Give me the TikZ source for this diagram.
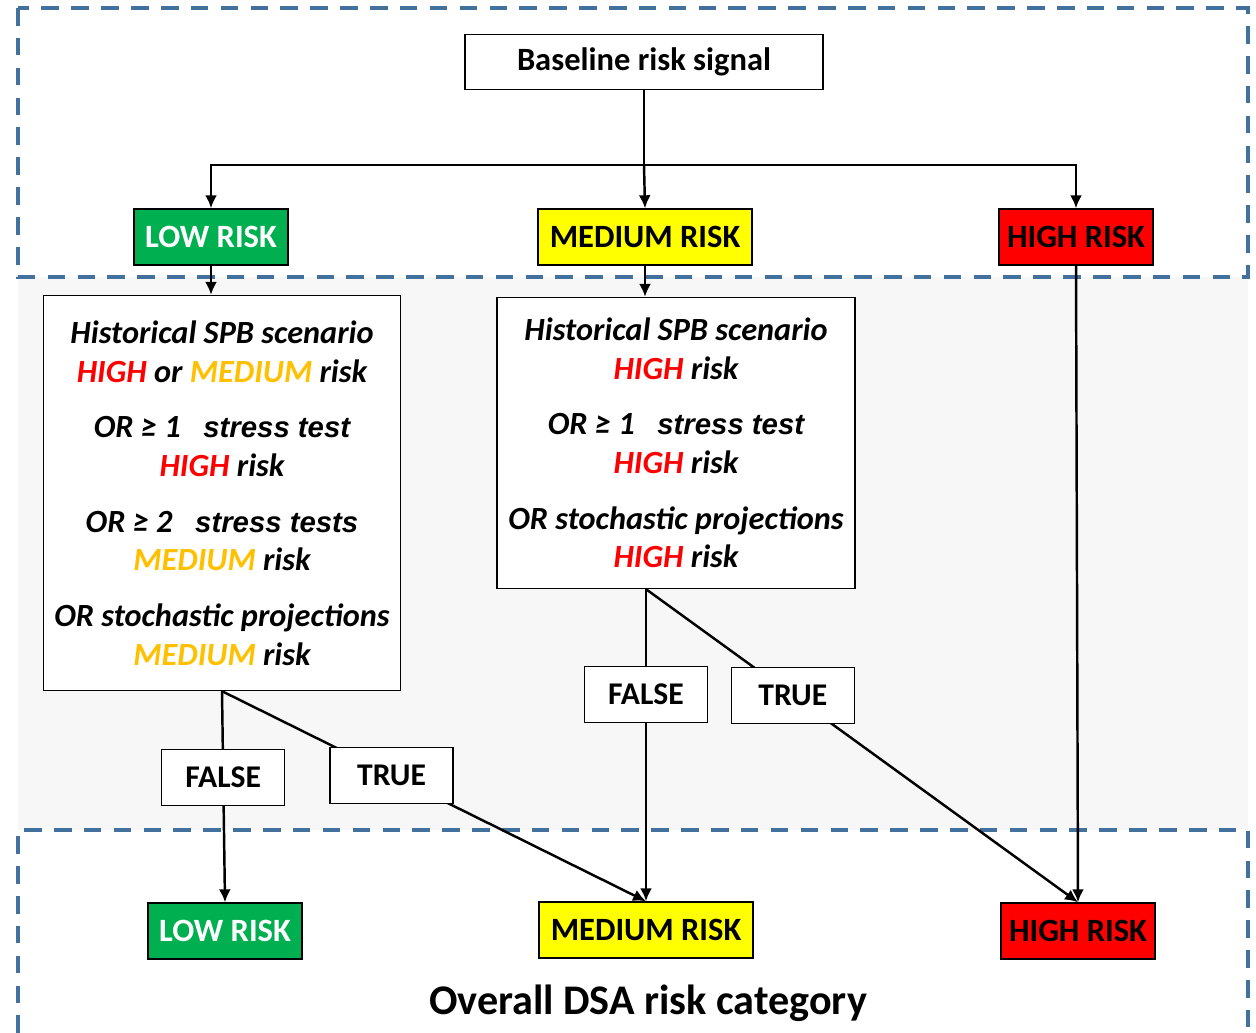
\documentclass[tikz,border=0pt]{standalone}
\usepackage{fontspec}
\setmainfont{Carlito}
\newfontfamily\arialfont{Liberation Sans}
\usepackage{tikz}
\usetikzlibrary{arrows.meta,calc}
\definecolor{lowgreen}{HTML}{00B050}
\definecolor{medyellow}{HTML}{FFFF00}
\definecolor{highred}{HTML}{FF0000}
\definecolor{medtext}{HTML}{FFC000}
\definecolor{zoneblue}{HTML}{41719C}
\definecolor{bandgrey}{HTML}{F7F7F7}
\newcommand{\hiword}{\textcolor{highred}{HIGH}}
\newcommand{\medword}{\textcolor{medtext}{MEDIUM}}
\newcommand{\sttxt}[1]{{\arialfont\fontsize{16.7}{22}\selectfont #1}}
\tikzset{
  >={Latex[length=2.6mm,width=2.4mm]},
  risk/.style={draw, line width=0.8pt, minimum width=3.08cm, minimum height=1.12cm, inner sep=0pt, font=\fontsize{18.5}{22}\selectfont\bfseries},
  cond/.style={draw, fill=white, line width=0.8pt, align=center, inner sep=0pt, minimum width=7.14cm, font=\fontsize{18.4}{22}\selectfont\bfseries\itshape},
  tf/.style={draw, fill=white, line width=0.8pt, minimum width=2.46cm, minimum height=1.12cm, inner sep=0pt, font=\fontsize{18}{21}\selectfont\bfseries},
  flow/.style={line width=1.4pt},
  zone/.style={draw=zoneblue, line width=2pt, dash pattern=on 10pt off 7pt},
}

\begin{document}
\begin{tikzpicture}[x=0.02cm, y=-0.02cm]
  \useasboundingbox (0,0) rectangle (1256,1033);

  % zones
  \fill[bandgrey] (18,277) rectangle (1248,830);
  \draw[zone] (18,8) rectangle (1248,277);
  \draw[zone] (18,1033) -- (18,830) -- (1248,830) -- (1248,1033);

  % baseline signal
  \node[risk, minimum width=7.16cm, minimum height=1.1cm] (base) at (644,62) {Baseline risk signal};
  \coordinate (split) at (644,165);

  \node[risk, fill=lowgreen, text=white] (lowt) at (211,237) {LOW RISK};
  \node[risk, fill=medyellow, minimum width=4.28cm] (medt) at (645,237) {MEDIUM RISK};
  \node[risk, fill=highred] (hight) at (1076,237) {HIGH RISK};

  % conditions
  \node[cond, minimum height=7.9cm] (cl) at (222,493) {%
    Historical SPB scenario\\
    \hiword{} or \medword{} risk\\[9.7pt]
    OR ≥ 1\hspace{0.7em}\sttxt{stress test}\\
    \hiword{} risk\\[9.7pt]
    OR ≥ 2\hspace{0.7em}\sttxt{stress tests}\\
    \medword{} risk\\[9.7pt]
    OR stochastic projections\\
    \medword{} risk};
  \node[cond, minimum width=7.16cm, minimum height=5.82cm] (cm) at (676,443) {%
    Historical SPB scenario\\
    \hiword{} risk\\[9.7pt]
    OR ≥ 1\hspace{0.7em}\sttxt{stress test}\\
    \hiword{} risk\\[9.7pt]
    OR stochastic projections\\
    \hiword{} risk};

  % overall category
  \node[risk, fill=lowgreen, text=white] (lowb) at (225,931) {LOW RISK};
  \node[risk, fill=medyellow, minimum width=4.28cm] (medb) at (646,930) {MEDIUM RISK};
  \node[risk, fill=highred] (highb) at (1078,931) {HIGH RISK};
  \node[font=\fontsize{24}{28}\selectfont\bfseries] (title) at (648,1003) {Overall DSA risk category};

  % connectors
  \draw[flow] (base) -- (split);
  \draw[flow, ->] (split) -| (lowt.north);
  \draw[flow, ->] (split) -- (medt.north);
  \draw[flow, ->] (split) -| (hight.north);
  \draw[flow, ->] (lowt.south) -- (lowt.south |- cl.north);
  \draw[flow, ->] (medt.south) -- (medt.south |- cm.north);
  \draw[flow, ->] (hight.south) -- (highb.north);

  \draw[flow, ->] (cl.south) -- node[tf, pos=0.41] (fl) {FALSE} (lowb.north);
  \draw[flow, ->] (cl.south) -- node[tf, pos=0.40] (tl) {TRUE} (medb.north);
  \draw[flow, ->] (medb.north |- cm.south) -- node[tf, pos=0.337] (fm) {FALSE} (medb.north);
  \draw[flow, ->] (medb.north |- cm.south) -- node[tf, pos=0.34] (tm) {TRUE} (highb.north);
\end{tikzpicture}
\end{document}
